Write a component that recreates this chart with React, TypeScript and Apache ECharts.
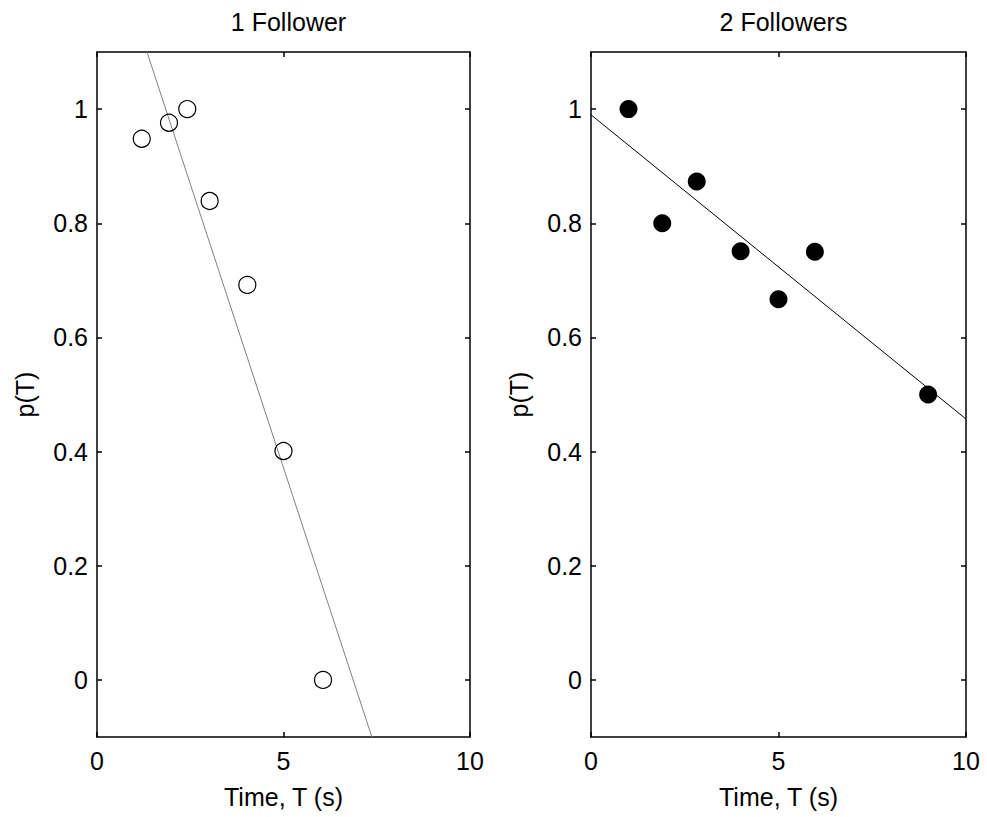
import React, { useEffect, useRef } from "react";
import * as echarts from "echarts";

const titles = ["1 Follower", "2 Followers"];
const xTicks = [0, 5, 10];
const yTicks = [0, 0.2, 0.4, 0.6, 0.8, 1];

const oneFollowerPoints: [number, number][] = [
  [1.2, 0.948],
  [1.93, 0.976],
  [2.42, 1.0],
  [3.02, 0.839],
  [4.03, 0.692],
  [5.0, 0.401],
  [6.06, 0.0],
];
const oneFollowerFit: [number, number][] = [
  [1.34, 1.1],
  [7.37, -0.1],
];

const twoFollowersPoints: [number, number][] = [
  [1.0, 1.0],
  [1.9, 0.8],
  [2.82, 0.873],
  [3.99, 0.751],
  [5.0, 0.667],
  [5.97, 0.75],
  [8.99, 0.5],
];
const twoFollowersFit: [number, number][] = [
  [0, 0.99],
  [10, 0.457],
];

const FONT = "Liberation Sans, Arial, sans-serif";
const FS = 25;

export default function App() {
  const ref = useRef<HTMLDivElement>(null);
  useEffect(() => {
    if (!ref.current) return;
    const chart = echarts.init(ref.current, undefined, { renderer: "svg" });
    const grids = [
      { left: 97, top: 52, width: 373, height: 685 },
      { left: 591, top: 52, width: 375, height: 685 },
    ];
    const xAxes: any[] = [];
    const yAxes: any[] = [];
    grids.forEach((g, i) => {
      const baseX = {
        type: "value",
        gridIndex: i,
        min: 0,
        max: 10,
        interval: 5,
        splitLine: { show: false },
        axisLine: { show: true, onZero: false, lineStyle: { color: "#000", width: 1.5 } },
        axisTick: {
          show: true,
          inside: true,
          length: 5,
          lineStyle: { color: "#000", width: 1.5 },
          customValues: xTicks,
        },
      };
      xAxes.push({
        ...baseX,
        position: "bottom",
        name: "Time, T (s)",
        nameLocation: "middle",
        nameGap: 47,
        nameTextStyle: { fontFamily: FONT, fontSize: FS, color: "#000" },
        axisLabel: {
          show: true,
          fontFamily: FONT,
          fontSize: FS,
          color: "#000",
          margin: 11,
          customValues: xTicks,
        },
      });
      xAxes.push({ ...baseX, position: "top", axisLabel: { show: false } });
      const baseY = {
        type: "value",
        gridIndex: i,
        min: -0.1,
        max: 1.1,
        splitLine: { show: false },
        axisLine: { show: true, onZero: false, lineStyle: { color: "#000", width: 1.5 } },
        axisTick: {
          show: true,
          inside: true,
          length: 5,
          lineStyle: { color: "#000", width: 1.5 },
          customValues: yTicks,
        },
        axisLabel: {
          show: true,
          fontFamily: FONT,
          fontSize: FS,
          color: "#000",
          margin: 9,
          customValues: yTicks,
          formatter: (v: number) => String(Math.round(v * 10) / 10),
        },
      };
      yAxes.push({
        ...baseY,
        position: "left",
        name: "p(T)",
        nameLocation: "middle",
        nameGap: 60,
        nameTextStyle: { fontFamily: FONT, fontSize: FS, color: "#000" },
      });
      yAxes.push({ ...baseY, position: "right", axisLabel: { show: false } });
    });

    chart.setOption({
      animation: false,
      backgroundColor: "#fff",
      title: titles.map((t, i) => ({
        text: t,
        left: grids[i].left + grids[i].width / 2,
        top: 4,
        textAlign: "center",
        textStyle: { fontFamily: FONT, fontSize: FS, fontWeight: "normal", color: "#000" },
      })),
      grid: grids.map((g) => ({ ...g, containLabel: false })),
      xAxis: xAxes,
      yAxis: yAxes,
      series: [
        {
          type: "line",
          xAxisIndex: 0,
          yAxisIndex: 0,
          data: oneFollowerFit,
          symbol: "none",
          lineStyle: { color: "#808080", width: 1 },
          z: 2,
        },
        {
          type: "scatter",
          xAxisIndex: 0,
          yAxisIndex: 0,
          data: oneFollowerPoints,
          symbol: "circle",
          symbolSize: 17,
          itemStyle: { color: "rgba(255,255,255,0)", borderColor: "#000", borderWidth: 1.2, opacity: 1 },
          z: 3,
        },
        {
          type: "line",
          xAxisIndex: 2,
          yAxisIndex: 2,
          data: twoFollowersFit,
          symbol: "none",
          lineStyle: { color: "#000", width: 1 },
          z: 2,
        },
        {
          type: "scatter",
          xAxisIndex: 2,
          yAxisIndex: 2,
          data: twoFollowersPoints,
          symbol: "circle",
          symbolSize: 18,
          itemStyle: { color: "#000", opacity: 1 },
          z: 3,
        },
      ],
    });
    return () => chart.dispose();
  }, []);
  return (
    <div
      ref={ref}
      style={{ position: "fixed", left: 0, top: 0, width: 987, height: 817, background: "#fff" }}
    />
  );
}
